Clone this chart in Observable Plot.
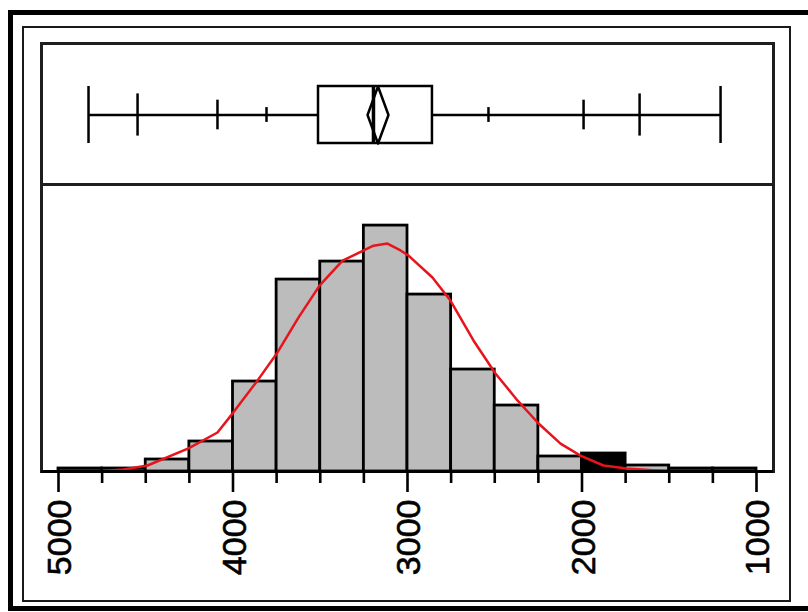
<!DOCTYPE html>
<html><head><meta charset="utf-8">
<script src="https://cdn.jsdelivr.net/npm/d3@7"></script>
<script src="https://cdn.jsdelivr.net/npm/@observablehq/plot@0.6"></script>
<style>
html,body{margin:0;padding:0;background:#fff;}
#chart{position:relative;width:808px;height:612px;overflow:hidden;background:#fff;font-family:"Liberation Sans",Arial,sans-serif;}
#chart svg{position:absolute;left:0;background:transparent !important;overflow:visible;}
.b{position:absolute;box-sizing:border-box;pointer-events:none;}
</style></head><body>
<div id="chart"></div>
<script>
// ---- data ----
const binLeft  = [5000, 4750, 4500, 4250, 4000, 3750, 3500, 3250, 3000, 2750, 2500, 2250, 2000, 1750, 1500, 1250];
const binRight = [4750, 4500, 4250, 4000, 3750, 3500, 3250, 3000, 2750, 2500, 2250, 2000, 1750, 1500, 1250, 1000];
const binCounts = [1, 1, 4, 10, 30, 64, 70, 82, 59, 34, 22, 5, 6, 2, 1, 1];
const selectedBins = [2000];

const curveValues = [5000, 4748, 4628, 4490, 4255, 4089, 4003, 3860, 3745, 3625, 3504, 3441, 3372, 3195, 3115, 3040, 2994, 2857, 2754, 2622, 2496, 2370, 2249, 2123, 2009, 1877, 1745, 1504, 1000];
const curveCounts = [0.1, 0.2, 0.7, 2, 7.7, 13, 19.3, 30.3, 39.7, 51.3, 62, 66, 70.3, 75.3, 76, 73.7, 72, 64.7, 57, 43.7, 32.7, 23.7, 16, 9.3, 5.3, 2, 1, 0.1, 0.1];

const quantileLevels = ["100%", "99.5%", "97.5%", "90%", "75%", "50%", "25%", "10%", "2.5%", "0.5%", "0%"];
const quantileValues = [4828, 4547, 4089, 3808, 3510, 3195, 2857, 2536, 1991, 1670, 1206];
const meanValue = 3169;
const meanCI = [3109, 3229];

const majorTicks = [5000, 4000, 3000, 2000, 1000];
const minorTicks = [4750, 4500, 4250, 3750, 3500, 3250, 2750, 2500, 2250, 1750, 1500, 1250];

// ---- derived tables ----
const q = Object.fromEntries(quantileLevels.map((l, i) => [l, quantileValues[i]]));
const bins = binLeft.map((x1, i) => ({x1, x2: binRight[i], count: binCounts[i], sel: selectedBins.includes(x1)}));
const curve = curveValues.map((v, i) => ({v, c: curveCounts[i]}));
const tickHalf = {"99.5%": 0.37, "0.5%": 0.37, "97.5%": 0.26, "2.5%": 0.26, "90%": 0.13, "10%": 0.13, "100%": 0.5, "0%": 0.5};
const whiskerTicks = quantileLevels.filter(l => l in tickHalf).map(l => ({v: q[l], lo: 0.5 - tickHalf[l], hi: 0.5 + tickHalf[l]}));
const diamond = [
  {x: meanValue, y: 1}, {x: meanCI[0], y: 0.5}, {x: meanValue, y: 0}, {x: meanCI[1], y: 0.5}, {x: meanValue, y: 1}
];

const W = 808, ML = 41, MR = 35, INSET = 17;
const xOpts = {domain: [5000, 1000], inset: INSET, axis: null};
const frameColor = "#1e1e1e";

const chartEl = document.getElementById("chart");

function borderBox(l, t, w, h, border) {
  const d = document.createElement("div");
  d.className = "b";
  Object.assign(d.style, {left: l + "px", top: t + "px", width: w + "px", height: h + "px", border});
  chartEl.appendChild(d);
}

// box plot panel
const boxPanel = Plot.plot({
  width: W, height: 184, marginTop: 43, marginBottom: 0, marginLeft: ML, marginRight: MR,
  style: {background: "transparent"},
  x: xOpts,
  y: {domain: [0, 1], range: [143, 86], axis: null},
  marks: [
    Plot.frame({stroke: frameColor, strokeWidth: 3}),
    Plot.ruleY([{y: 0.5, x1: q["0%"], x2: q["100%"]}], {y: "y", x1: "x1", x2: "x2", stroke: "black", strokeWidth: 2.5}),
    Plot.ruleX(whiskerTicks, {x: "v", y1: "lo", y2: "hi", stroke: "black", strokeWidth: 2.5}),
    Plot.rect([{x1: q["75%"], x2: q["25%"]}], {x1: "x1", x2: "x2", y1: 0, y2: 1, fill: "white", stroke: "black", strokeWidth: 2.5}),
    Plot.ruleX([q["50%"]], {x: d => d, y1: 0, y2: 1, stroke: "black", strokeWidth: 3.5}),
    Plot.line(diamond, {x: "x", y: "y", stroke: "black", strokeWidth: 2.5})
  ]
});
boxPanel.style.top = "0px";
chartEl.appendChild(boxPanel);

// histogram panel
const histPanel = Plot.plot({
  width: W, height: 428, marginTop: 0, marginBottom: 141, marginLeft: ML, marginRight: MR,
  style: {background: "transparent", overflow: "visible"},
  x: xOpts,
  y: {domain: [0, 95.7], axis: null},
  marks: [
    Plot.rectY(bins, {x1: "x1", x2: "x2", y: "count", fill: d => d.sel ? "black" : "#bcbcbc", stroke: "black", strokeWidth: 2.8}),
    Plot.line(curve, {x: "v", y: "c", stroke: "#e8141c", strokeWidth: 2.5}),
    Plot.frame({anchor: "left", stroke: frameColor, strokeWidth: 3}),
    Plot.frame({anchor: "right", stroke: frameColor, strokeWidth: 3}),
    Plot.ruleY([0], {stroke: "black", strokeWidth: 3}),
    Plot.axisX({ticks: majorTicks, tickSize: 21, tickFormat: () => "", label: null, strokeWidth: 2.6}),
    Plot.axisX({ticks: minorTicks, tickSize: 12, tickFormat: () => "", label: null, strokeWidth: 2.6}),
    Plot.text(majorTicks, {x: d => d, text: d => String(d), frameAnchor: "bottom", dy: 28, dx: 2, rotate: -90,
      textAnchor: "end", lineAnchor: "middle", fontSize: 34, fontFamily: "Liberation Sans, Arial, sans-serif",
      fill: "black", stroke: "black", strokeWidth: 0.6})
  ]
});
histPanel.style.top = "184px";
chartEl.appendChild(histPanel);

borderBox(8, 10, 830, 601, "5px solid black");
borderBox(22, 26, 769, 576, "2.5px solid #1a1a1a");
</script></body></html>
